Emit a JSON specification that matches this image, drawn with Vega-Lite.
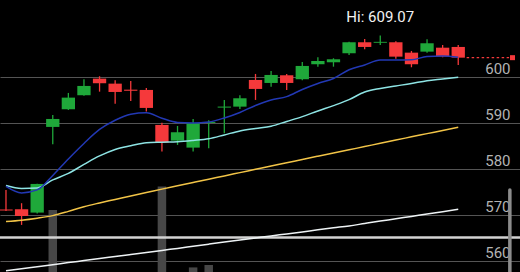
{
  "$schema": "https://vega.github.io/schema/vega-lite/v6.json",
  "width": 520,
  "height": 272,
  "autosize": {"type": "none"},
  "padding": 0,
  "background": "#000000",
  "config": {"view": {"stroke": null}, "font": "Roboto"},
  "datasets": {
    "candles": [
      {"i": 0, "open": 571.26, "high": 575.50, "low": 570.93, "close": 571.04, "vol": 16, "ma_fast": 576.26, "ma_mid": 576.48, "ma_slow": 568.61, "ma_long": 557.91},
      {"i": 1, "open": 571.30, "high": 572.61, "low": 567.89, "close": 569.85, "vol": 18, "ma_fast": 574.85, "ma_mid": 575.83, "ma_slow": 568.91, "ma_long": 558.37},
      {"i": 2, "open": 570.57, "high": 576.85, "low": 570.39, "close": 576.80, "vol": 21, "ma_fast": 575.50, "ma_mid": 575.93, "ma_slow": 569.35, "ma_long": 558.80},
      {"i": 3, "open": 589.20, "high": 591.80, "low": 585.43, "close": 590.93, "vol": 40.0, "ma_fast": 578.65, "ma_mid": 577.67, "ma_slow": 569.91, "ma_long": 559.24},
      {"i": 4, "open": 593.04, "high": 596.59, "low": 592.89, "close": 595.57, "vol": 19, "ma_fast": 582.24, "ma_mid": 579.09, "ma_slow": 570.83, "ma_long": 559.70},
      {"i": 5, "open": 596.09, "high": 599.57, "low": 596.00, "close": 598.11, "vol": 17, "ma_fast": 585.61, "ma_mid": 581.04, "ma_slow": 571.85, "ma_long": 560.13},
      {"i": 6, "open": 599.70, "high": 600.22, "low": 596.87, "close": 598.70, "vol": 14, "ma_fast": 588.65, "ma_mid": 582.89, "ma_slow": 572.67, "ma_long": 560.57},
      {"i": 7, "open": 598.61, "high": 599.35, "low": 594.26, "close": 596.80, "vol": 15, "ma_fast": 590.65, "ma_mid": 584.30, "ma_slow": 573.43, "ma_long": 561.02},
      {"i": 8, "open": 597.30, "high": 599.20, "low": 594.85, "close": 597.06, "vol": 13, "ma_fast": 591.96, "ma_mid": 585.11, "ma_slow": 574.20, "ma_long": 561.46},
      {"i": 9, "open": 597.24, "high": 597.67, "low": 592.57, "close": 593.33, "vol": 20, "ma_fast": 592.28, "ma_mid": 585.78, "ma_slow": 574.93, "ma_long": 561.89},
      {"i": 10, "open": 589.63, "high": 590.13, "low": 583.83, "close": 585.78, "vol": 46.7, "ma_fast": 591.09, "ma_mid": 585.89, "ma_slow": 575.67, "ma_long": 562.35},
      {"i": 11, "open": 586.22, "high": 589.41, "low": 585.28, "close": 588.04, "vol": 21, "ma_fast": 590.17, "ma_mid": 585.98, "ma_slow": 576.39, "ma_long": 562.78},
      {"i": 12, "open": 584.70, "high": 590.93, "low": 583.83, "close": 590.00, "vol": 23.6, "ma_fast": 590.07, "ma_mid": 586.26, "ma_slow": 577.11, "ma_long": 563.24},
      {"i": 13, "open": 590.07, "high": 590.65, "low": 584.57, "close": 590.28, "vol": 24.3, "ma_fast": 590.28, "ma_mid": 586.63, "ma_slow": 577.83, "ma_long": 563.70},
      {"i": 14, "open": 593.40, "high": 595.07, "low": 587.83, "close": 593.62, "vol": 17, "ma_fast": 591.15, "ma_mid": 587.46, "ma_slow": 578.54, "ma_long": 564.15},
      {"i": 15, "open": 593.61, "high": 596.09, "low": 593.11, "close": 595.43, "vol": 15, "ma_fast": 592.35, "ma_mid": 588.33, "ma_slow": 579.26, "ma_long": 564.59},
      {"i": 16, "open": 599.41, "high": 600.72, "low": 595.07, "close": 597.46, "vol": 18, "ma_fast": 593.87, "ma_mid": 588.87, "ma_slow": 579.98, "ma_long": 565.04},
      {"i": 17, "open": 598.76, "high": 601.37, "low": 597.96, "close": 600.50, "vol": 16, "ma_fast": 595.07, "ma_mid": 589.35, "ma_slow": 580.70, "ma_long": 565.50},
      {"i": 18, "open": 600.43, "high": 600.72, "low": 597.24, "close": 598.76, "vol": 14, "ma_fast": 595.78, "ma_mid": 590.39, "ma_slow": 581.41, "ma_long": 565.93},
      {"i": 19, "open": 599.57, "high": 603.33, "low": 599.35, "close": 602.46, "vol": 19, "ma_fast": 597.35, "ma_mid": 591.43, "ma_slow": 582.13, "ma_long": 566.37},
      {"i": 20, "open": 602.83, "high": 604.35, "low": 602.30, "close": 603.54, "vol": 13, "ma_fast": 598.65, "ma_mid": 592.67, "ma_slow": 582.83, "ma_long": 566.83},
      {"i": 21, "open": 603.26, "high": 604.13, "low": 602.30, "close": 603.91, "vol": 12, "ma_fast": 599.74, "ma_mid": 593.83, "ma_slow": 583.52, "ma_long": 567.26},
      {"i": 22, "open": 605.22, "high": 607.70, "low": 604.85, "close": 607.61, "vol": 20, "ma_fast": 601.63, "ma_mid": 595.13, "ma_slow": 584.22, "ma_long": 567.67},
      {"i": 23, "open": 607.61, "high": 608.33, "low": 606.09, "close": 606.59, "vol": 15, "ma_fast": 602.67, "ma_mid": 596.80, "ma_slow": 584.93, "ma_long": 568.20},
      {"i": 24, "open": 607.50, "high": 609.07, "low": 607.02, "close": 607.70, "vol": 16, "ma_fast": 603.76, "ma_mid": 597.57, "ma_slow": 585.63, "ma_long": 568.72},
      {"i": 25, "open": 607.61, "high": 607.83, "low": 604.04, "close": 604.48, "vol": 17, "ma_fast": 603.76, "ma_mid": 598.11, "ma_slow": 586.35, "ma_long": 569.22},
      {"i": 26, "open": 605.35, "high": 605.72, "low": 602.17, "close": 602.83, "vol": 18, "ma_fast": 603.80, "ma_mid": 598.65, "ma_slow": 587.04, "ma_long": 569.74},
      {"i": 27, "open": 605.57, "high": 608.26, "low": 605.35, "close": 607.39, "vol": 14, "ma_fast": 604.52, "ma_mid": 599.26, "ma_slow": 587.74, "ma_long": 570.24},
      {"i": 28, "open": 606.43, "high": 607.02, "low": 604.35, "close": 604.48, "vol": 15, "ma_fast": 604.63, "ma_mid": 599.63, "ma_slow": 588.43, "ma_long": 570.76},
      {"i": 29, "open": 606.59, "high": 607.02, "low": 602.67, "close": 604.26, "vol": 19, "ma_fast": 604.35, "ma_mid": 600.00, "ma_slow": 589.13, "ma_long": 571.30}
    ]
  },
  "layer": [
    {
      "data": {"name": "candles"},
      "mark": {"type": "bar", "color": "#474747", "width": 8.5, "clip": true},
      "encoding": {
        "x": {"field": "i", "type": "quantitative", "scale": {"domain": [-0.063, 32.64], "nice": false, "zero": false}, "axis": null},
        "y": {"field": "vol", "type": "quantitative", "scale": {"domain": [22.29, 100], "nice": false, "zero": false}, "axis": null},
        "y2": {"datum": 0}
      }
    },
    {
      "data": {"name": "candles"},
      "mark": {"type": "rule", "strokeWidth": 1.3, "clip": true},
      "encoding": {
        "x": {"field": "i", "type": "quantitative", "scale": {"domain": [-0.063, 32.64], "nice": false, "zero": false}, "axis": null},
        "y": {
          "field": "low", "type": "quantitative",
          "scale": {"domain": [557.65, 616.8], "nice": false, "zero": false},
          "axis": {
            "orient": "right", "values": [560, 570, 580, 590, 600], "title": null,
            "domain": false, "ticks": false, "tickSize": 0,
            "labelAlign": "right", "labelPadding": -10, "labelBaseline": "alphabetic", "labelOffset": -3.5,
            "labelColor": "#b3b3b3", "labelFontSize": 15, "labelFont": "Roboto",
            "grid": true, "gridColor": "#545454", "gridWidth": 1
          }
        },
        "y2": {"field": "high"},
        "color": {"condition": {"test": "datum.close >= datum.open", "value": "#1fa83a"}, "value": "#f5393b"}
      }
    },
    {
      "data": {"name": "candles"},
      "mark": {"type": "bar", "width": 13.3, "clip": true},
      "encoding": {
        "x": {"field": "i", "type": "quantitative", "scale": {"domain": [-0.063, 32.64], "nice": false, "zero": false}, "axis": null},
        "y": {"field": "open", "type": "quantitative", "scale": {"domain": [557.65, 616.8], "nice": false, "zero": false}, "axis": null},
        "y2": {"field": "close"},
        "color": {"condition": {"test": "datum.close >= datum.open", "value": "#1fa83a"}, "value": "#f5393b"}
      }
    },
    {
      "data": {"values": [{"level": 565.13}]},
      "mark": {"type": "rule", "color": "#d2d2d2", "strokeWidth": 2.5},
      "encoding": {
        "y": {"field": "level", "type": "quantitative", "scale": {"domain": [557.65, 616.8], "nice": false, "zero": false}, "axis": null}
      }
    },
    {
      "data": {"name": "candles"},
      "mark": {"type": "line", "color": "#eef3f5", "strokeWidth": 1.5, "interpolate": "monotone", "clip": true},
      "encoding": {
        "x": {"field": "i", "type": "quantitative", "scale": {"domain": [-0.063, 32.64], "nice": false, "zero": false}, "axis": null},
        "y": {"field": "ma_long", "type": "quantitative", "scale": {"domain": [557.65, 616.8], "nice": false, "zero": false}, "axis": null}
      }
    },
    {
      "data": {"name": "candles"},
      "mark": {"type": "line", "color": "#f2c447", "strokeWidth": 1.5, "interpolate": "monotone", "clip": true},
      "encoding": {
        "x": {"field": "i", "type": "quantitative", "scale": {"domain": [-0.063, 32.64], "nice": false, "zero": false}, "axis": null},
        "y": {"field": "ma_slow", "type": "quantitative", "scale": {"domain": [557.65, 616.8], "nice": false, "zero": false}, "axis": null}
      }
    },
    {
      "data": {"name": "candles"},
      "mark": {"type": "line", "color": "#8ee4e4", "strokeWidth": 1.5, "interpolate": "monotone", "clip": true},
      "encoding": {
        "x": {"field": "i", "type": "quantitative", "scale": {"domain": [-0.063, 32.64], "nice": false, "zero": false}, "axis": null},
        "y": {"field": "ma_mid", "type": "quantitative", "scale": {"domain": [557.65, 616.8], "nice": false, "zero": false}, "axis": null}
      }
    },
    {
      "data": {"name": "candles"},
      "mark": {"type": "line", "color": "#2238b4", "strokeWidth": 1.5, "interpolate": "monotone", "clip": true},
      "encoding": {
        "x": {"field": "i", "type": "quantitative", "scale": {"domain": [-0.063, 32.64], "nice": false, "zero": false}, "axis": null},
        "y": {"field": "ma_fast", "type": "quantitative", "scale": {"domain": [557.65, 616.8], "nice": false, "zero": false}, "axis": null}
      }
    },
    {
      "data": {"name": "candles"},
      "transform": [{"filter": "datum.i === 29"}],
      "mark": {"type": "rule", "color": "#f5393b", "strokeWidth": 1.3, "strokeDash": [2.5, 2.5], "clip": true},
      "encoding": {
        "x": {"datum": 29.54, "type": "quantitative", "scale": {"domain": [-0.063, 32.64], "nice": false, "zero": false}, "axis": null},
        "x2": {"datum": 32.26},
        "y": {"field": "close", "type": "quantitative", "scale": {"domain": [557.65, 616.8], "nice": false, "zero": false}, "axis": null}
      }
    },
    {
      "data": {"name": "candles"},
      "transform": [{"filter": "datum.i === 29"}],
      "mark": {"type": "point", "shape": "square", "filled": true, "opacity": 1, "color": "#f5393b", "size": 25, "clip": true},
      "encoding": {
        "x": {"datum": 32.48, "type": "quantitative", "scale": {"domain": [-0.063, 32.64], "nice": false, "zero": false}, "axis": null},
        "y": {"field": "close", "type": "quantitative", "scale": {"domain": [557.65, 616.8], "nice": false, "zero": false}, "axis": null}
      }
    },
    {
      "data": {"name": "candles"},
      "transform": [
        {"joinaggregate": [{"op": "max", "field": "high", "as": "top"}]},
        {"filter": "datum.high === datum.top"},
        {"calculate": "'Hi: ' + format(datum.high, '.2f')", "as": "label"}
      ],
      "mark": {"type": "text", "color": "#f2f2f2", "fontSize": 15, "font": "Roboto", "align": "center", "baseline": "alphabetic", "dy": -14},
      "encoding": {
        "x": {"field": "i", "type": "quantitative", "scale": {"domain": [-0.063, 32.64], "nice": false, "zero": false}, "axis": null},
        "y": {"field": "high", "type": "quantitative", "scale": {"domain": [557.65, 616.8], "nice": false, "zero": false}, "axis": null},
        "text": {"field": "label"}
      }
    },
    {
      "data": {"values": [{"from": 575.5, "to": 557.65}]},
      "mark": {"type": "rule", "color": "#8c8c8c", "strokeWidth": 3.5, "strokeCap": "round"},
      "encoding": {
        "x": {"datum": 32.31, "type": "quantitative", "scale": {"domain": [-0.063, 32.64], "nice": false, "zero": false}, "axis": null},
        "y": {"field": "from", "type": "quantitative", "scale": {"domain": [557.65, 616.8], "nice": false, "zero": false}, "axis": null},
        "y2": {"field": "to"}
      }
    }
  ],
  "resolve": {"scale": {"y": "independent"}}
}
